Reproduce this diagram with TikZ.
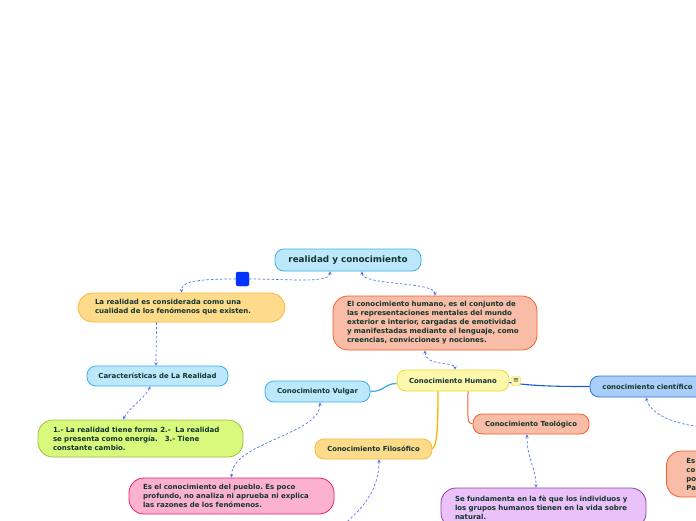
\documentclass[tikz,border=0pt]{standalone}
\usepackage{fontspec}
\setmainfont{DejaVu Sans}
\usetikzlibrary{arrows.meta}
\definecolor{ink}{HTML}{12352E}
\definecolor{skyfill}{HTML}{BDE7FA}
\definecolor{skyline}{HTML}{3DB1EA}
\definecolor{sandfill}{HTML}{FEDB8B}
\definecolor{sandline}{HTML}{F6B93B}
\definecolor{limefill}{HTML}{D8F97B}
\definecolor{limeline}{HTML}{9CC23A}
\definecolor{salmonfill}{HTML}{F9BCA6}
\definecolor{salmonline}{HTML}{F0612E}
\definecolor{lemonfill}{HTML}{FEF8AE}
\definecolor{lemonline}{HTML}{F2D931}
\definecolor{pinkfill}{HTML}{FDB1D1}
\definecolor{pinkline}{HTML}{EA1E6B}
\definecolor{lilacfill}{HTML}{EAC1F9}
\definecolor{lilacline}{HTML}{8A459E}
\definecolor{bluefill}{HTML}{A9CEFA}
\definecolor{blueline}{HTML}{3172DA}
\definecolor{branchblue}{HTML}{1A5FD0}
\definecolor{branchorange}{HTML}{F9B400}
\definecolor{relcolor}{HTML}{5574F2}
\definecolor{handle}{HTML}{0033FF}
\frenchspacing

\begin{document}
\begin{tikzpicture}[
  x=1pt, y=-1pt,
  >={Stealth[length=3.5pt,width=3.4pt]},
  topic/.style={draw, rounded corners=9pt, line width=0.8pt, text=ink, inner sep=0pt,
    font=\fontsize{6.9}{9}\selectfont\bfseries},
  note/.style={topic, rounded corners=15pt, align=left,
    font=\fontsize{7}{9}\selectfont\bfseries},
  relation/.style={draw=relcolor, dash pattern=on 2.5pt off 2pt, line width=0.7pt},
  branch/.style={line width=1.3pt},
]
\path[use as bounding box] (0,0) rectangle (696,520);
\fill[white] (0,0) rectangle (696,520);
\clip (0,0) rectangle (696,520);

\node[topic, fill=skyfill, draw=skyline, minimum width=146pt, minimum height=22pt,
  font=\fontsize{8.8}{10}\selectfont\bfseries] (root) at (348,260) {realidad y conocimiento};
\node[draw=handle, fill=handle, rounded corners=2pt, minimum width=13pt, minimum height=14pt,
  inner sep=0pt] (handle) at (242.5,279) {};

\node[note, fill=sandfill, draw=sandline, minimum width=207pt, minimum height=29pt,
  text width=173pt] (realidad) at (181.5,307.5)
  {La realidad es considerada como una\\cualidad de los fenómenos que existen.};
\node[topic, fill=skyfill, draw=skyline, minimum width=141pt, minimum height=20pt]
  (caract) at (157.5,376) {Características de La Realidad};
\node[note, fill=limefill, draw=limeline, minimum width=205pt, minimum height=37pt,
  text width=175pt] (lista) at (140.5,438.5)
  {1.- La realidad tiene forma 2.-\ \ La realidad\\se presenta como energía.\ \ \ 3.- Tiene\\constante cambio.};

\node[note, fill=salmonfill, draw=salmonline, minimum width=204pt, minimum height=54pt,
  text width=176pt] (humanodef) at (435,323)
  {El conocimiento humano, es el conjunto de\\las representaciones mentales del mundo\\exterior e interior, cargadas de emotividad\\y manifestadas mediante el lenguaje, como\\creencias, convicciones y nociones.};
\node[topic, fill=lemonfill, draw=lemonline, minimum width=112pt, minimum height=21pt]
  (humano) at (453,380.5) {Conocimiento Humano};

\node[topic, fill=skyfill, draw=skyline, minimum width=105pt, minimum height=21pt]
  (vulgar) at (317.5,391.5) {Conocimiento Vulgar};
\node[topic, fill=sandfill, draw=sandline, minimum width=117pt, minimum height=20pt]
  (filosof) at (373.5,449) {Conocimiento Filosófico};
\node[topic, fill=salmonfill, draw=salmonline, minimum width=116pt, minimum height=20pt]
  (teolog) at (531,424) {Conocimiento Teológico};
\node[topic, fill=bluefill, draw=blueline, minimum width=115pt, minimum height=21pt]
  (cientif) at (647.5,386.5) {conocimiento científico};

\node[note, fill=pinkfill, draw=pinkline, minimum width=205pt, minimum height=36pt,
  text width=177pt] (vulgardef) at (231.5,496)
  {Es el conocimiento del pueblo. Es poco\\profundo, no analiza ni aprueba ni explica\\las razones de los fenómenos.};
\node[note, fill=lilacfill, draw=lilacline, minimum width=205pt, minimum height=40pt,
  text width=177pt] (teologdef) at (543.5,508)
  {Se fundamenta en la fè que los individuos y\\los grupos humanos tienen en la vida sobre\\natural.};
\node[note, fill=salmonfill, draw=salmonline, minimum width=200pt, minimum height=46pt,
  text width=160pt, anchor=west] (cientifdef) at (666,474) {Es\\co\\po\\Pa};

\coordinate (filosofend) at (335,532);
\coordinate (cientifend) at (720,428);

\draw[relation, ->] (handle.east) .. controls +(40,0) and +(0,12) .. ([xshift=-18pt]root.south);
\draw[relation, ->] (handle.west) .. controls +(-45,0) and +(0,-10) .. (realidad.north);
\draw[relation, <->] ([xshift=14pt]root.south) .. controls +(0,14) and +(0,-14) .. (humanodef.north);
\draw[relation, ->] ([xshift=-25pt]realidad.south) .. controls +(0,15) and +(0,-15) .. ([xshift=-1.5pt]caract.north);
\draw[relation, <->] ([xshift=-7pt]caract.south) .. controls +(-6,12) and +(6,-12) .. ([xshift=-17.5pt]lista.north);
\draw[relation, <->] ([xshift=-10pt]humanodef.south) .. controls +(0,16) and +(0,-8) .. ([xshift=2pt]humano.north);
\draw[relation, <->] ([xshift=2.5pt]vulgar.south) .. controls +(0,32) and +(0,-35) .. (vulgardef.north);
\draw[relation, <-] ([xshift=5.5pt]filosof.south) .. controls +(0,35) and +(22,-18) .. (filosofend);
\draw[relation, <->] ([xshift=-4pt]teolog.south) .. controls +(0,25) and +(0,-20) .. ([xshift=-7.5pt]teologdef.north);
\draw[relation, <-] ([xshift=-1.5pt]cientif.south) .. controls +(6,22) and +(-30,0) .. (cientifend);

\draw[branch, skyline] ([yshift=-3pt]humano.west) .. controls +(-12,0) and +(14,0) .. (vulgar.east);
\draw[branch, branchorange] ([xshift=-15pt]humano.south) .. controls +(0,52) and +(3,-4) .. (filosof.east);
\draw[branch, salmonline, line width=1pt] ([xshift=15pt]humano.south) .. controls +(0,26) and +(-6,0) .. (teolog.west);
\draw[branch, branchblue, line width=1.1pt] ([yshift=-2pt]humano.east) .. controls +(25,4) and +(-25,0) .. (cientif.west);

\node[draw=lemonline, fill=lemonfill, rounded corners=1.5pt, minimum size=9pt, inner sep=0pt,
  text=ink, font=\fontsize{7}{7}\selectfont] (memo) at (516,381) {≡};
\end{tikzpicture}
\end{document}
